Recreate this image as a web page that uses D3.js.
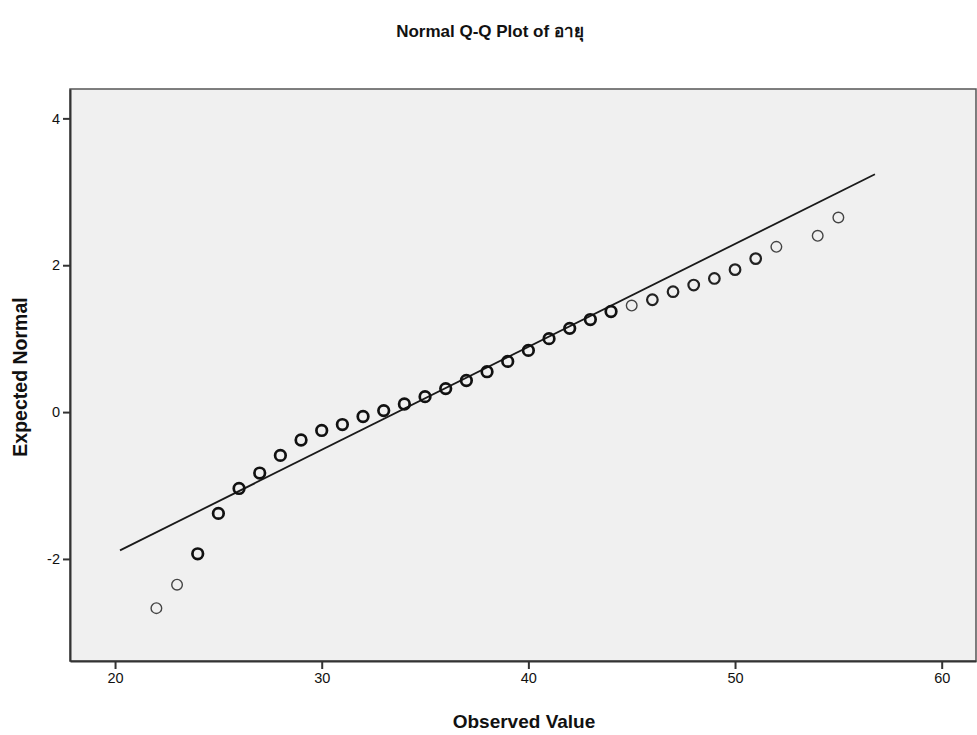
<!DOCTYPE html>
<html>
<head>
<meta charset="utf-8">
<script src="https://cdn.jsdelivr.net/npm/d3@7"></script>
<style>
  html, body { margin: 0; padding: 0; background: #ffffff; }
  svg { display: block; font-family: Arial, "Liberation Sans", sans-serif; }
</style>
</head>
<body>
<svg id="chart" width="977" height="735"></svg>
<script>
// ---- Data ----
const observed = [22, 23, 24, 25, 26, 27, 28, 29, 30, 31, 32, 33, 34, 35, 36, 37, 38, 39, 40, 41, 42, 43, 44, 45, 46, 47, 48, 49, 50, 51, 52, 54, 55];
const expected = [-2.67, -2.35, -1.93, -1.38, -1.04, -0.83, -0.59, -0.38, -0.25, -0.17, -0.06, 0.02, 0.11, 0.21, 0.32, 0.43, 0.55, 0.69, 0.84, 1.00, 1.14, 1.26, 1.37, 1.45, 1.53, 1.64, 1.73, 1.82, 1.94, 2.09, 2.25, 2.40, 2.65];
const ties = [1, 1, 3, 4, 3, 3, 3, 3, 3, 3, 3, 3, 3, 3, 3, 3, 3, 3, 3, 3, 3, 3, 3, 1, 2, 2, 2, 2, 2, 2, 1, 1, 1];
const xTicks = [20, 30, 40, 50, 60];
const yTicks = [-2, 0, 2, 4];
const lineRange = [20.24, 56.77];
const fitMean = 33.67;
const fitSD = 7.13;
const titleText = "Normal Q-Q Plot of อายุ";
const xLabel = "Observed Value";
const yLabel = "Expected Normal";

// ---- Layout ----
const plot = { left: 70, top: 89, right: 976, bottom: 661 };
const svg = d3.select("#chart");
const FONT = "Arial, 'Liberation Sans', sans-serif";

const x = d3.scaleLinear().domain([17.82, 61.66]).range([plot.left, plot.right]);
const y = d3.scaleLinear().domain([-3.39, 4.40]).range([plot.bottom, plot.top]);

// Plot background
svg.append("rect")
  .attr("x", plot.left).attr("y", plot.top)
  .attr("width", plot.right - plot.left).attr("height", plot.bottom - plot.top)
  .attr("fill", "#f0f0f0")
  .attr("stroke", "#555").attr("stroke-width", 1.5);

// Axes
const xAxis = svg.append("g")
  .attr("transform", `translate(0,${plot.bottom})`)
  .call(d3.axisBottom(x).tickValues(xTicks).tickSize(8).tickSizeOuter(0).tickPadding(4).tickFormat(d => String(d)));
const yAxis = svg.append("g")
  .attr("transform", `translate(${plot.left},0)`)
  .call(d3.axisLeft(y).tickValues(yTicks).tickSize(7).tickSizeOuter(0).tickPadding(3).tickFormat(d => String(d)));

[xAxis, yAxis].forEach(g => {
  g.select(".domain").attr("stroke", "#333").attr("stroke-width", 2);
  g.selectAll(".tick line").attr("stroke", "#333").attr("stroke-width", 2);
  g.selectAll(".tick text").attr("fill", "#111").style("font-size", "14.5px").style("font-family", FONT);
});

// Reference line
const line = d3.line().x(d => x(d)).y(d => y((d - fitMean) / fitSD));
svg.append("path")
  .datum(lineRange)
  .attr("d", line)
  .attr("fill", "none")
  .attr("stroke", "#1a1a1a")
  .attr("stroke-width", 1.8);

// Points
const pts = observed.map((v, i) => ({ x: v, y: expected[i], n: ties[i] }));
svg.append("g").selectAll("circle")
  .data(pts)
  .join("circle")
  .attr("cx", d => x(d.x))
  .attr("cy", d => y(d.y))
  .attr("r", 5.3)
  .attr("fill", "none")
  .attr("stroke", d => d.n >= 3 ? "#111" : d.n === 2 ? "#222" : "#444")
  .attr("stroke-width", d => d.n >= 3 ? 2.7 : d.n === 2 ? 2.2 : 1.4);

// Title & axis labels
svg.append("text")
  .attr("x", 490).attr("y", 37)
  .attr("text-anchor", "middle")
  .style("font-size", "17px").style("font-weight", "bold").style("font-family", FONT)
  .attr("fill", "#111")
  .text(titleText);

svg.append("text")
  .attr("x", 524).attr("y", 728)
  .attr("text-anchor", "middle")
  .style("font-size", "19px").style("font-weight", "bold").style("font-family", FONT)
  .attr("fill", "#111")
  .text(xLabel);

svg.append("text")
  .attr("transform", `translate(27,377) rotate(-90)`)
  .attr("text-anchor", "middle")
  .style("font-size", "19.5px").style("font-weight", "bold").style("font-family", FONT)
  .attr("fill", "#111")
  .text(yLabel);
</script>
</body>
</html>
